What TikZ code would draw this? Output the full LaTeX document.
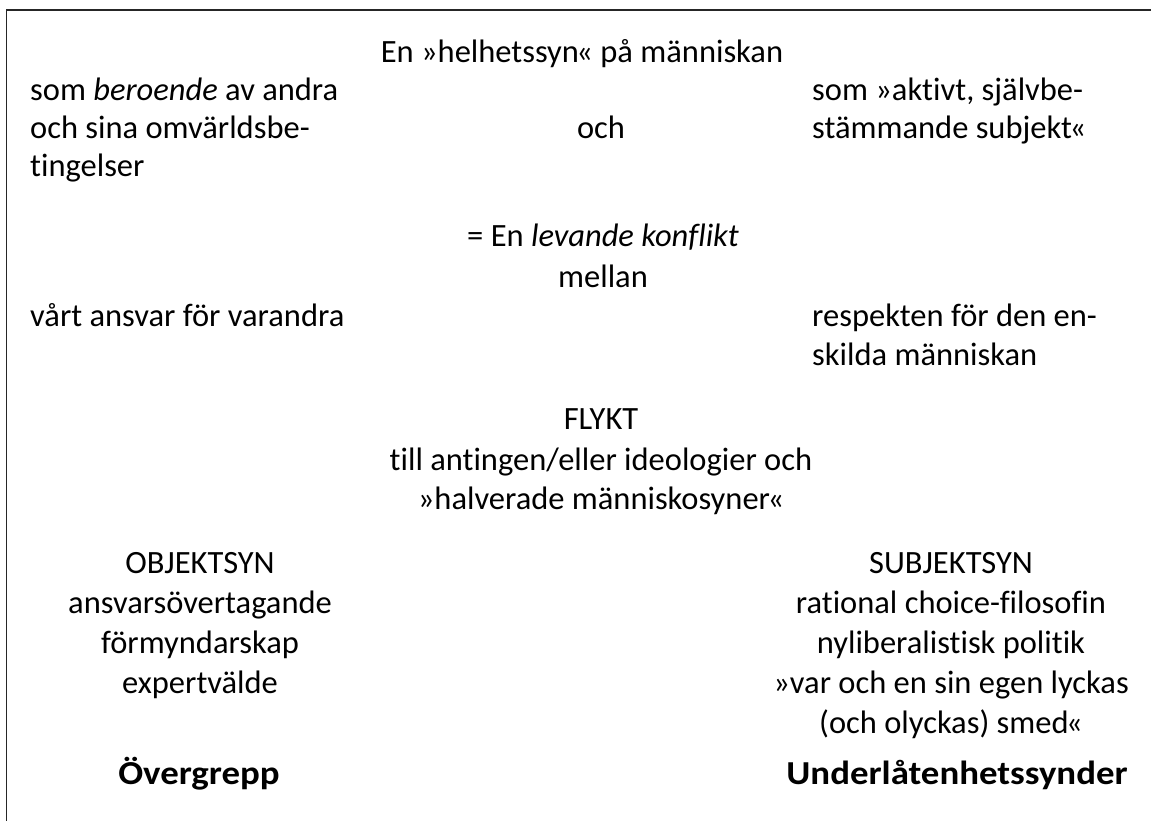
\documentclass[tikz,border=0pt]{standalone}
\usepackage{fontspec}
\setmainfont{Carlito}[Ligatures=NoCommon]
\newfontfamily\wideb{Carlito}[Ligatures=NoCommon, FakeStretch=1.1]
\newcommand{\closeq}{\kern-2.5pt«}
\begin{document}
\begin{tikzpicture}[x=1pt,y=-1pt,
  txt/.style={inner sep=0pt, font=\fontsize{32.5}{39}\selectfont},
  L/.style={txt, anchor=base west},
  C/.style={txt, anchor=base},
  B/.style={inner sep=0pt, anchor=base, font=\wideb\bfseries\fontsize{33.5}{40}\selectfont},
  frameline/.style={line width=1.5pt, black!85}]
\useasboundingbox (0,0) rectangle (1151,821);
\draw[frameline] (6.5,821) -- (6.5,10) -- (1151,10);
\node[C] (t1) at (582,63) {En »helhetssyn\closeq{} på människan};
\node[L] (l1) at (30,101) {som \textit{beroende} av andra};
\node[L] (l2) at (30,139) {och sina omvärldsbe-};
\node[L] (l3) at (30,177) {tingelser};
\node[C] (och) at (601,139) {och};
\node[L] (r1) at (812,101) {som »aktivt, självbe-};
\node[L] (r2) at (812,139) {stämmande subjekt\closeq};
\node[C] (k1) at (603,247) {= En \textit{levande konflikt}};
\node[C] (k2) at (603,287) {mellan};
\node[L] (l4) at (30,326) {vårt ansvar för varandra};
\node[L] (r3) at (812,326) {respekten för den en-};
\node[L] (r4) at (812,365) {skilda människan};
\node[C] (f1) at (601,429) {FLYKT};
\node[C] (f2) at (601,470) {till antingen/eller ideologier och};
\node[C] (f3) at (601,509) {»halverade människosyner\closeq};
\node[C] (o1) at (200,573) {OBJEKTSYN};
\node[C] (o2) at (200,613) {ansvarsövertagande};
\node[C] (o3) at (200,653) {förmyndarskap};
\node[C] (o4) at (200,693) {expertvälde};
\node[C] (s1) at (951,573) {SUBJEKTSYN};
\node[C] (s2) at (951,613) {rational choice-filosofin};
\node[C] (s3) at (951,653) {nyliberalistisk politik};
\node[C] (s4) at (951,693) {»var och en sin egen lyckas};
\node[C] (s5) at (951,733) {(och olyckas) smed\closeq};
\node[B] (o9) at (199,784) {Övergrepp};
\node[B] (s9) at (957,784) {Underlåtenhetssynder};
\end{tikzpicture}
\end{document}
